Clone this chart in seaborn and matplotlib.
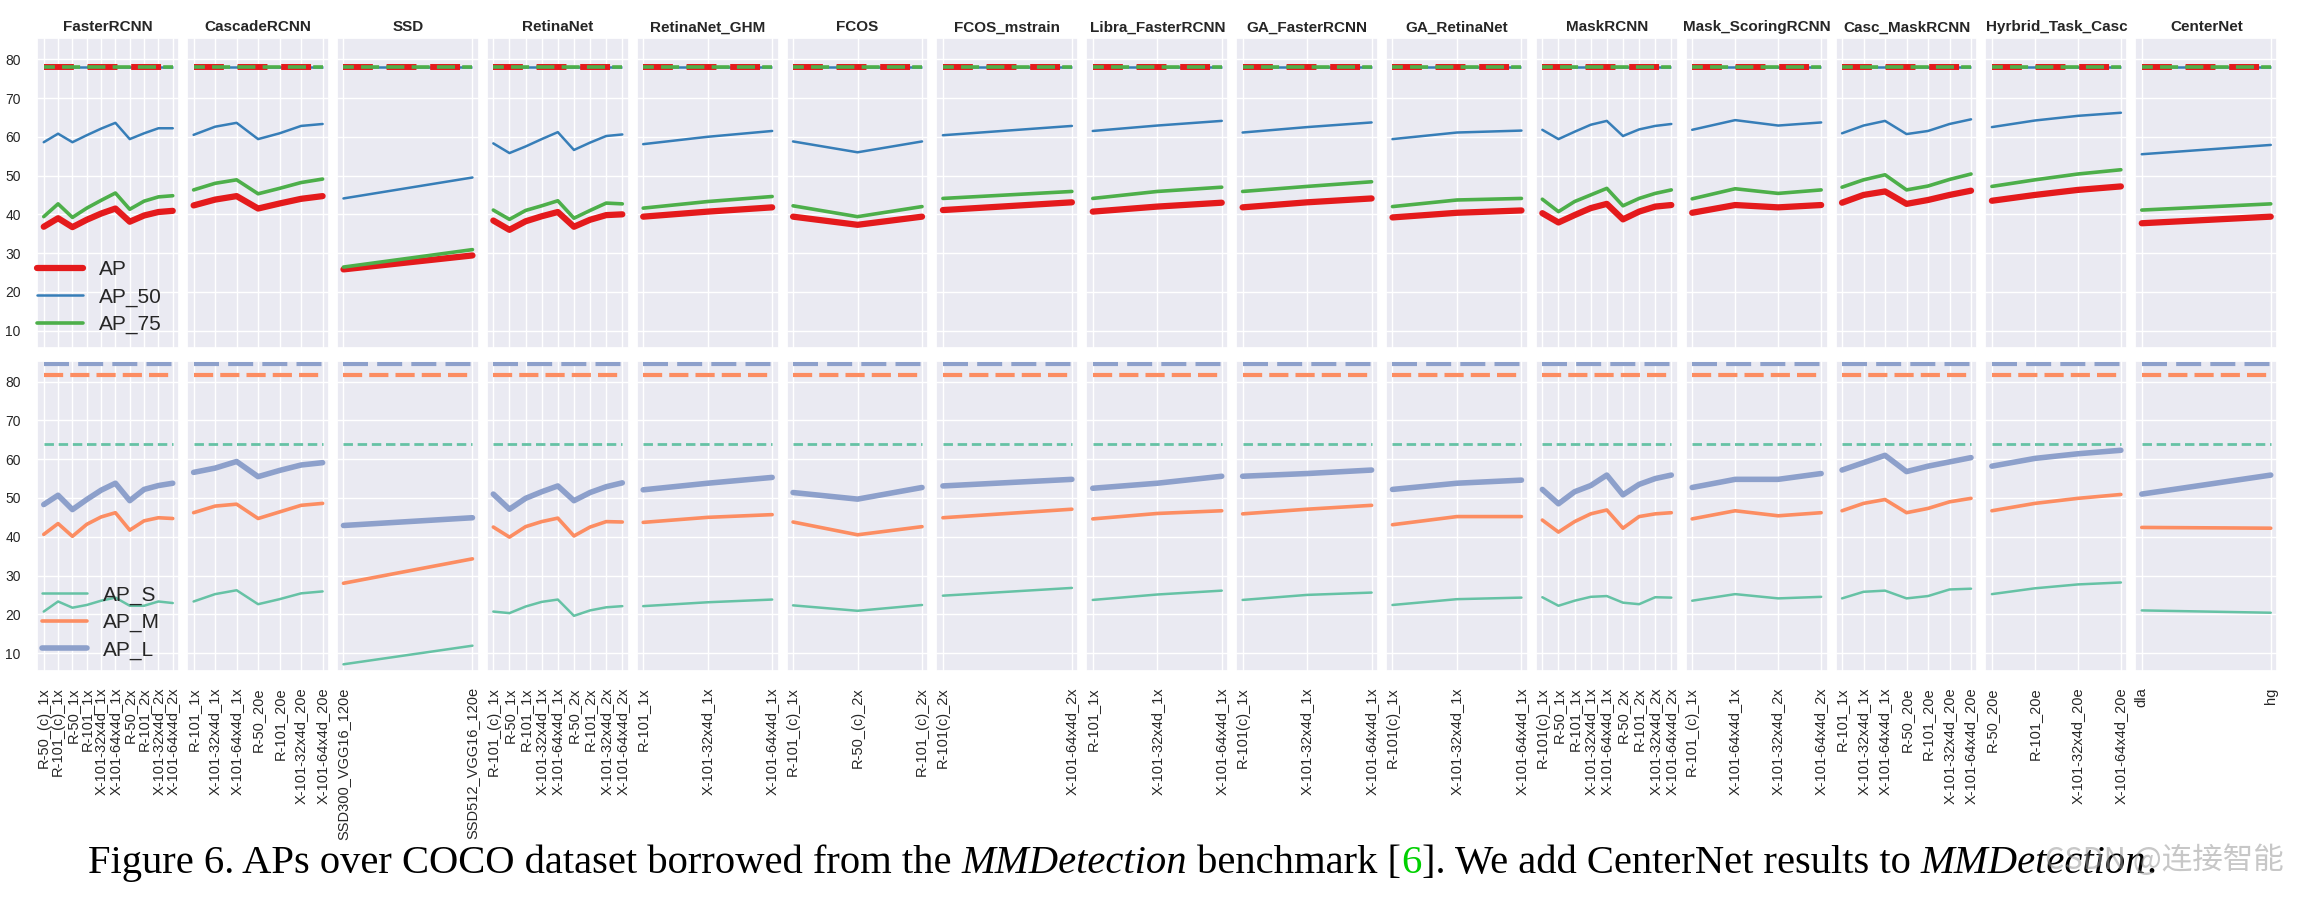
import numpy as np
import pandas as pd
import matplotlib
matplotlib.use("Agg")
import matplotlib.pyplot as plt
import matplotlib.transforms as mtransforms
from matplotlib.lines import Line2D
import seaborn as sns

# ---------------- data ----------------
MODELS = ["FasterRCNN", "CascadeRCNN", "SSD", "RetinaNet", "RetinaNet_GHM", "FCOS",
          "FCOS_mstrain", "Libra_FasterRCNN", "GA_FasterRCNN", "GA_RetinaNet", "MaskRCNN",
          "Mask_ScoringRCNN", "Casc_MaskRCNN", "Hyrbrid_Task_Casc", "CenterNet"]

CONFIGS = [
    ["R-50_(c)_1x", "R-101_(c)_1x", "R-50_1x", "R-101_1x", "X-101-32x4d_1x", "X-101-64x4d_1x",
     "R-50_2x", "R-101_2x", "X-101-32x4d_2x", "X-101-64x4d_2x"],
    ["R-101_1x", "X-101-32x4d_1x", "X-101-64x4d_1x", "R-50_20e", "R-101_20e",
     "X-101-32x4d_20e", "X-101-64x4d_20e"],
    ["SSD300_VGG16_120e", "SSD512_VGG16_120e"],
    ["R-101_(c)_1x", "R-50_1x", "R-101_1x", "X-101-32x4d_1x", "X-101-64x4d_1x",
     "R-50_2x", "R-101_2x", "X-101-32x4d_2x", "X-101-64x4d_2x"],
    ["R-101_1x", "X-101-32x4d_1x", "X-101-64x4d_1x"],
    ["R-101_(c)_1x", "R-50_(c)_2x", "R-101_(c)_2x"],
    ["R-101(c)_2x", "X-101-64x4d_2x"],
    ["R-101_1x", "X-101-32x4d_1x", "X-101-64x4d_1x"],
    ["R-101(c)_1x", "X-101-32x4d_1x", "X-101-64x4d_1x"],
    ["R-101(c)_1x", "X-101-32x4d_1x", "X-101-64x4d_1x"],
    ["R-101(c)_1x", "R-50_1x", "R-101_1x", "X-101-32x4d_1x", "X-101-64x4d_1x",
     "R-50_2x", "R-101_2x", "X-101-32x4d_2x", "X-101-64x4d_2x"],
    ["R-101_(c)_1x", "X-101-64x4d_1x", "X-101-32x4d_2x", "X-101-64x4d_2x"],
    ["R-101_1x", "X-101-32x4d_1x", "X-101-64x4d_1x", "R-50_20e", "R-101_20e",
     "X-101-32x4d_20e", "X-101-64x4d_20e"],
    ["R-50_20e", "R-101_20e", "X-101-32x4d_20e", "X-101-64x4d_20e"],
    ["dla", "hg"],
]

AP = [
    [36.8, 39.0, 36.7, 38.6, 40.2, 41.5, 38.1, 39.7, 40.6, 40.9],
    [42.3, 43.8, 44.7, 41.5, 42.8, 44.0, 44.7],
    [25.8, 29.4],
    [38.4, 36.0, 38.2, 39.5, 40.6, 36.8, 38.6, 39.8, 40.0],
    [39.4, 40.7, 41.8],
    [39.4, 37.3, 39.4],
    [41.1, 43.1],
    [40.7, 42.0, 43.0],
    [41.8, 43.1, 44.1],
    [39.2, 40.4, 41.0],
    [40.3, 37.9, 39.8, 41.6, 42.7, 38.7, 40.7, 42.0, 42.4],
    [40.4, 42.4, 41.8, 42.4],
    [43.0, 45.0, 45.9, 42.7, 43.7, 45.0, 46.1],
    [43.5, 45.0, 46.3, 47.2],
    [37.7, 39.4],
]
AP_50 = [
    [58.6, 60.8, 58.6, 60.4, 62.1, 63.6, 59.4, 60.9, 62.2, 62.2],
    [60.5, 62.6, 63.6, 59.4, 60.9, 62.8, 63.3],
    [44.1, 49.5],
    [58.3, 55.8, 57.5, 59.4, 61.2, 56.6, 58.5, 60.2, 60.6],
    [58.1, 60.0, 61.5],
    [58.8, 56.0, 58.8],
    [60.4, 62.8],
    [61.5, 62.9, 64.1],
    [61.1, 62.5, 63.7],
    [59.4, 61.1, 61.6],
    [61.8, 59.4, 61.3, 63.1, 64.1, 60.2, 61.9, 62.8, 63.3],
    [61.8, 64.3, 62.9, 63.7],
    [60.9, 62.9, 64.1, 60.7, 61.5, 63.3, 64.5],
    [62.5, 64.2, 65.4, 66.2],
    [55.5, 57.9],
]
AP_75 = [
    [39.4, 42.7, 39.2, 41.6, 43.6, 45.5, 41.3, 43.4, 44.5, 44.8],
    [46.3, 48.0, 48.9, 45.3, 46.7, 48.2, 49.1],
    [26.4, 30.9],
    [41.1, 38.7, 41.0, 42.2, 43.5, 39.0, 41.0, 42.9, 42.7],
    [41.6, 43.3, 44.6],
    [42.2, 39.4, 42.0],
    [44.1, 45.9],
    [44.1, 45.9, 47.0],
    [45.9, 47.2, 48.4],
    [42.0, 43.7, 44.1],
    [43.9, 40.7, 43.3, 45.0, 46.7, 42.2, 44.1, 45.4, 46.3],
    [44.0, 46.6, 45.4, 46.3],
    [47.0, 48.9, 50.2, 46.3, 47.3, 49.0, 50.4],
    [47.2, 48.9, 50.4, 51.5],
    [41.1, 42.7],
]
AP_S = [
    [20.7, 23.3, 21.7, 22.4, 23.5, 24.3, 22.2, 22.2, 23.3, 22.9],
    [23.3, 25.2, 26.2, 22.6, 23.9, 25.4, 25.9],
    [7.1, 11.9],
    [20.7, 20.3, 22.0, 23.2, 23.8, 19.6, 21.0, 21.8, 22.1],
    [22.1, 23.1, 23.8],
    [22.3, 20.9, 22.4],
    [24.8, 26.8],
    [23.7, 25.1, 26.1],
    [23.7, 25.0, 25.6],
    [22.4, 23.9, 24.3],
    [24.4, 22.2, 23.5, 24.5, 24.7, 23.0, 22.6, 24.4, 24.3],
    [23.5, 25.2, 24.1, 24.5],
    [24.1, 25.8, 26.1, 24.1, 24.7, 26.4, 26.6],
    [25.2, 26.7, 27.7, 28.2],
    [21.0, 20.4],
]
AP_M = [
    [40.6, 43.4, 40.1, 43.2, 45.1, 46.2, 41.7, 44.1, 44.9, 44.7],
    [46.2, 47.9, 48.4, 44.7, 46.4, 48.1, 48.6],
    [28.0, 34.3],
    [42.5, 39.9, 42.6, 43.9, 44.8, 40.2, 42.5, 43.9, 43.8],
    [43.7, 45.0, 45.7],
    [43.8, 40.5, 42.6],
    [44.9, 47.1],
    [44.6, 46.0, 46.7],
    [45.9, 47.1, 48.1],
    [43.1, 45.2, 45.2],
    [44.3, 41.2, 43.9, 45.9, 46.9, 42.2, 45.2, 45.9, 46.2],
    [44.6, 46.7, 45.4, 46.2],
    [46.7, 48.6, 49.6, 46.2, 47.3, 49.0, 49.9],
    [46.7, 48.6, 49.9, 50.9],
    [42.4, 42.2],
]
AP_L = [
    [48.3, 50.7, 47.0, 49.6, 52.0, 53.8, 49.3, 52.2, 53.2, 53.8],
    [56.6, 57.7, 59.4, 55.5, 57.1, 58.5, 59.1],
    [42.9, 44.9],
    [51.0, 47.1, 49.9, 51.6, 53.1, 49.3, 51.4, 52.9, 53.9],
    [52.1, 53.8, 55.3],
    [51.4, 49.7, 52.7],
    [53.1, 54.8],
    [52.5, 53.8, 55.6],
    [55.6, 56.3, 57.2],
    [52.2, 53.8, 54.6],
    [52.2, 48.5, 51.6, 53.2, 55.9, 50.8, 53.5, 55.0, 55.9],
    [52.7, 54.8, 54.8, 56.3],
    [57.2, 59.1, 61.0, 56.8, 58.2, 59.3, 60.4],
    [58.2, 60.2, 61.4, 62.3],
    [51.0, 55.9],
]

REF_TOP = 78.0          # reference level drawn for AP / AP_50 / AP_75
REF_S, REF_M, REF_L = 64.0, 81.6, 84.6

# ---------------- style ----------------
sns.set_theme(style="darkgrid")
plt.rcParams['font.family'] = ['Liberation Sans', 'DejaVu Sans']
TXT = (0.15, 0.15, 0.15)

C_AP, C_50, C_75 = "#e41a1c", "#377eb8", "#4daf4a"
C_S, C_M, C_L = "#66c2a5", "#fc8d62", "#8da0cb"

TOP_SERIES = [("AP", AP, C_AP, 4.5), ("AP_50", AP_50, C_50, 1.8), ("AP_75", AP_75, C_75, 2.6)]
BOT_SERIES = [("AP_S", AP_S, C_S, 1.8), ("AP_M", AP_M, C_M, 2.6), ("AP_L", AP_L, C_L, 4.0)]

W, H = 2298, 900
fig, axes = plt.subplots(2, len(MODELS), figsize=(W / 100, H / 100), dpi=100, sharey=True)
fig.subplots_adjust(left=37.3 / W, right=2277.2 / W, top=1 - 38.3 / H, bottom=1 - 670.7 / H,
                    wspace=0.0561, hspace=0.04)

for j, model in enumerate(MODELS):
    labels = CONFIGS[j]
    n = len(labels)
    # ---- top row
    ax = axes[0, j]
    ax.hlines(REF_TOP, 0, n - 1, colors=C_50, linewidth=1.8, zorder=2)
    ax.hlines(REF_TOP, 0, n - 1, colors=C_AP, linewidth=4.3, linestyles=(0, (5.0, 2.3)), zorder=2.1)
    ax.hlines(REF_TOP, 0, n - 1, colors=C_75, linewidth=2.6, linestyles=(2, (5.0, 2.0)), zorder=2.2)
    for name, data, color, lw in TOP_SERIES:
        sns.lineplot(x=labels, y=data[j], color=color, linewidth=lw, sort=False, ax=ax,
                     solid_capstyle='round', solid_joinstyle='round')
    ax.set_title(model, fontsize=11, fontweight='bold', pad=5, color=TXT)
    ax.tick_params(axis='x', labelbottom=False)
    # ---- bottom row
    ax = axes[1, j]
    ax.hlines(REF_L, 0, n - 1, colors=C_L, linewidth=3.0, linestyles=(0, (6.0, 2.2)))
    ax.hlines(REF_M, 0, n - 1, colors=C_M, linewidth=3.0, linestyles=(0, (4.6, 1.7)))
    ax.hlines(REF_S, 0, n - 1, colors=C_S, linewidth=2.0, linestyles=(0, (3.4, 1.7)))
    for name, data, color, lw in BOT_SERIES:
        sns.lineplot(x=labels, y=data[j], color=color, linewidth=lw, sort=False, ax=ax,
                     solid_capstyle='round', solid_joinstyle='round')
    ax.tick_params(axis='x', labelrotation=90, labelsize=10.5, pad=6, colors=TXT)

for ax in axes.flat:
    ax.set_ylim(5.45, 85.4)
    ax.set_xlabel("")
    ax.set_ylabel("")
    ax.tick_params(axis='y', labelsize=10, pad=6, colors=TXT)
axes[0, 0].set_yticks(np.arange(10, 81, 10))

# legends
leg_kw = dict(loc='lower left', frameon=False, fontsize=15, handlelength=2.2,
              handletextpad=0.75, borderpad=0, borderaxespad=0, labelspacing=0.4,
              labelcolor=TXT)
top_handles = [Line2D([], [], color=c, linewidth=lw, solid_capstyle='round') for _, _, c, lw in TOP_SERIES]
axes[0, 0].legend(top_handles, [s[0] for s in TOP_SERIES], bbox_to_anchor=(0.0, 0.045), **leg_kw)
bot_handles = [Line2D([], [], color=c, linewidth=lw, solid_capstyle='round') for _, _, c, lw in BOT_SERIES]
axes[1, 0].legend(bot_handles, [s[0] for s in BOT_SERIES], bbox_to_anchor=(0.03, 0.035), **leg_kw)

# ---------------- caption ----------------
fig.canvas.draw()
rend = fig.canvas.get_renderer()
ident = mtransforms.IdentityTransform()
SERIF = ['Liberation Serif', 'DejaVu Serif']
pieces = [("Figure 6. APs over COCO dataset borrowed from the", 'normal', 'black', True),
          ("MMDetection", 'italic', 'black', True),
          ("benchmark [", 'normal', 'black', False),
          ("6", 'normal', '#00d000', False),
          ("]. We add CenterNet results to", 'normal', 'black', True),
          ("MMDetection", 'italic', 'black', False),
          (".", 'normal', 'black', False)]


def text_w(s, size, style):
    t = fig.text(0, 0, s, fontsize=size, family=SERIF, style=style, transform=ident)
    w = t.get_window_extent(rend).width
    t.remove()
    return w


def total_w(size):
    sp = text_w("x x", size, 'normal') - text_w("xx", size, 'normal')
    tot = 0
    for s, st, c, space in pieces:
        tot += text_w(s, size, st) + (sp if space else 0)
    return tot, sp


s0 = 28.0
tw, _ = total_w(s0)
cap_size = s0 * 2074.0 / tw
_, space_w = total_w(cap_size)
x = 88.0
for s, st, c, space in pieces:
    t = fig.text(x, 27, s, fontsize=cap_size, family=SERIF, style=st, color=c,
                 transform=ident, va='baseline', ha='left')
    x += t.get_window_extent(rend).width + (space_w if space else 0)

# watermark (overlaps the caption end, as in the reference)
fig.text(2045, 31, "CSDN @连接智能", fontsize=22, family=['Noto Sans CJK SC', 'DejaVu Sans'],
         color=(0.6, 0.6, 0.6), alpha=0.55, transform=ident, va='baseline', ha='left')

fig.savefig("out.png", dpi=100)
